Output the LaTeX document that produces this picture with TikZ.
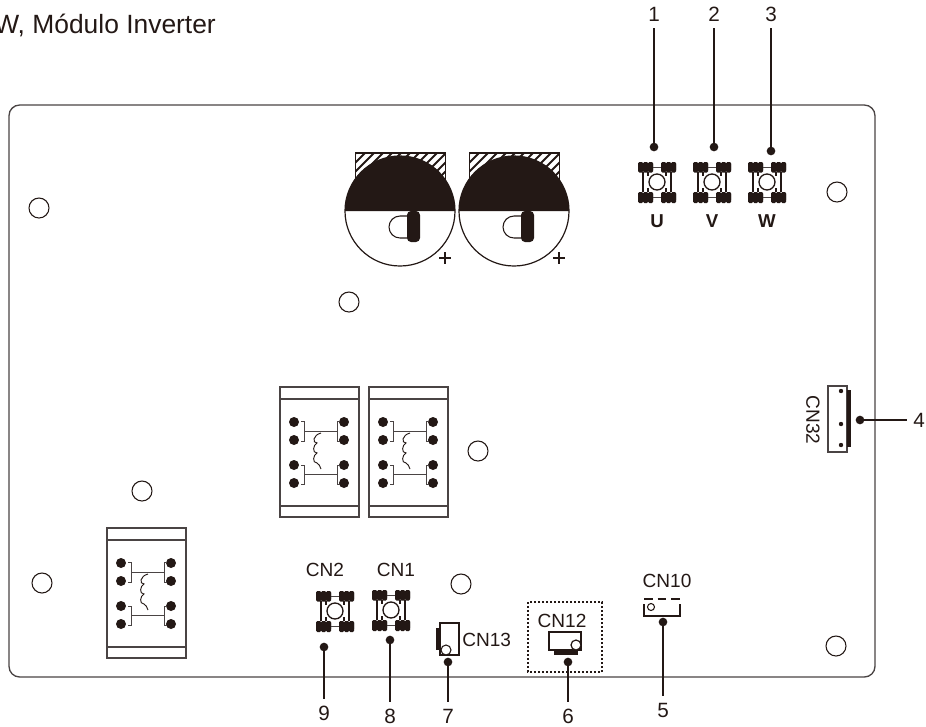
\documentclass[tikz,border=0pt]{standalone}
\usepackage{fontspec}
\setmainfont{Liberation Sans}
\usepackage{xcolor}
\definecolor{ink}{HTML}{231815}
\definecolor{edge}{HTML}{4A4444}
\tikzset{
    hole/.style={circle, draw=ink, fill=white, line width=.8pt, minimum size=15pt, inner sep=0pt, outer sep=0pt},
    pin/.style={circle, fill=ink, minimum size=6.5pt, inner sep=0pt, outer sep=0pt},
    num/.style={text=ink, font=\fontsize{15.5}{16}\selectfont, inner sep=5pt, outer sep=0pt},
    cn/.style={text=ink, font=\fontsize{14.3}{15}\selectfont, inner sep=0pt},
    phase/.style={text=ink, font=\fontsize{14}{15}\bfseries\selectfont, inner sep=0pt},
    lead/.style={draw=ink, line width=1pt},
    terminal/.pic={
        \fill[ink] (-19,-18) rectangle (-4,-12) (4,-18) rectangle (19,-12);
        \fill[ink] (-19,12) rectangle (-4,18) (4,12) rectangle (19,18);
        \foreach \px in {-19,-14,-9,4,9,14} {
            \fill[ink, rounded corners=1pt] (\px,-20) rectangle ++(5.2,10.5);
            \fill[ink, rounded corners=1pt] (\px,10) rectangle ++(5.2,11);
        }
        \draw[edge, line width=.7pt] (-4,-15) -- (4,-15) (-4,15) -- (4,15);
        \draw[ink, line width=.9pt] (-14,-10) -- (-14,10) (14,-10) -- (14,10);
        \draw[ink, line width=.8pt] (-9,-10) -- (-9,-6) (9,-10) -- (9,-6) (-9,10) -- (-9,6) (9,10) -- (9,6);
        \draw[ink, line width=1pt, fill=white] (0,0) circle[radius=8];
    },
    capacitor/.pic={
        \begin{scope}
            \clip (-44.5,-58) rectangle (45.5,-30);
            \foreach \hx in {-72,-63,...,54} {
                \draw[ink, line width=1.5pt] (\hx,-30) -- ++(30,-30);
            }
        \end{scope}
        \draw[ink, line width=.9pt] (-44.5,-30) -- (-44.5,-58) -- (45.5,-58) -- (45.5,-30);
        \draw[ink, line width=.9pt, fill=white] (0,0) circle[radius=55];
        \fill[ink] (-55,0) arc[start angle=180, end angle=360, radius=55] -- cycle;
        \draw[ink, line width=.8pt] (7,5) -- (0,5) arc[start angle=270, end angle=90, radius=11] -- (7,27);
        \fill[ink, rounded corners=3pt] (7,0) rectangle (20,31);
        \draw[ink, line width=1pt] (39,47) -- (51,47) (45,41) -- (45,53);
    },
    module/.pic={
        \draw[edge, line width=.9pt] (0,0) rectangle (79,130);
        \draw[edge, line width=.9pt] (0,12) -- (79,12) (0,119) -- (79,119);
        \foreach \dy in {35,53,78,96} {
            \fill[ink] (14,\dy) circle[radius=5];
            \fill[ink] (64,\dy) circle[radius=5];
        }
        \draw[edge, line width=.7pt]
            (21,34) -- (24,34) -- (24,54) -- (21,54)
            (24,44) -- (57,44)
            (60,34) -- (57,34) -- (57,54) -- (60,54)
            (21,78) -- (24,78) -- (24,97) -- (21,97)
            (24,87) -- (57,87)
            (60,78) -- (57,78) -- (57,97) -- (60,97);
        \draw[ink, line width=.7pt] (41,46) .. controls (33,48) and (32,56) .. (37,56)
            .. controls (33,58) and (32,66) .. (37,66)
            .. controls (33,68) and (32,76) .. (37,76)
            .. controls (39,77) and (40,79) .. (41,82);
    }
}
\begin{document}
\begin{tikzpicture}[x=.75pt, y=-.75pt]
    \useasboundingbox (0,0) rectangle (926,726);
    % board
    \draw[edge, line width=1pt, rounded corners=8pt] (9,105) rectangle (875,677);
    \foreach \n/\x/\y in {a/39/208, b/349/302, c/142/491, d/478/451, e/42/583, f/461/584, g/837/192, h/836/646} {
        \node[hole] (hole\n) at (\x,\y) {};
    }
    % power parts
    \pic at (400,211) {capacitor};
    \pic at (514,211) {capacitor};
    \pic at (280,387) {module};
    \pic at (369,387) {module};
    \pic at (107,528) {module};
    \foreach \n/\x in {U/657, V/712, W/767} {
        \pic at (\x,182) {terminal};
        \node[phase] (label\n) at (\x,221) {\n};
    }
    \pic at (335,611) {terminal};
    \pic at (391,610) {terminal};
    % CN13
    \draw[ink, line width=.8pt] (440,623) rectangle (459,655);
    \fill[ink] (436,628) rectangle (440,650);
    \draw[ink, line width=.8pt, fill=white] (446,650) circle[radius=5];
    % CN12
    \draw[ink, line width=.9pt, dash pattern=on 1.5pt off 1.5pt] (528,602) rectangle (602,672);
    \draw[ink, line width=.9pt] (549,632) rectangle (581,650);
    \fill[ink] (554,650) rectangle (578,655);
    \draw[ink, line width=.9pt, fill=white] (576,645) circle[radius=5];
    % CN10
    \draw[ink, line width=.9pt] (644,604) -- (644,616) -- (680,616) -- (680,604);
    \draw[ink, line width=.9pt, dash pattern=on 6.5pt off 3.7pt] (644,599) -- (680,599);
    \draw[ink, line width=.8pt] (651,607) circle[radius=3.5];
    % CN32
    \draw[edge, line width=.9pt] (828,386) rectangle (847,452);
    \fill[ink] (847,390) rectangle (851,447);
    \foreach \dy in {391,424,445} {
        \fill[ink] (841,\dy) circle[radius=2.2];
    }
    % labels
    \node[anchor=base west, text=ink, font=\fontsize{19.8}{20}\selectfont, inner sep=0pt] (title) at (-6,33) {W, Módulo Inverter};
    \node[cn] (cn2) at (325,570) {CN2};
    \node[cn] (cn1) at (396,570) {CN1};
    \node[cn, anchor=west] (cn13) at (462,640) {CN13};
    \node[cn] (cn12) at (562,621) {CN12};
    \node[cn] (cn10) at (667,581) {CN10};
    \node[cn, rotate=-90] (cn32) at (813,420) {CN32};
    % callouts
    \foreach \n/\x/\y/\tx/\ty in {1/654/147/654/14, 2/714/147/714/14, 3/771/151/771/14, 5/663/622/663/710, 6/568/662/568/716, 7/448/662/448/716, 8/390/640/390/716, 9/324/647/324/713, 4/860/420/919/420} {
        \node[pin] (dot\n) at (\x,\y) {};
        \node[num] (num\n) at (\tx,\ty) {\n};
        \draw[lead] (dot\n) -- (num\n);
    }
\end{tikzpicture}
\end{document}
